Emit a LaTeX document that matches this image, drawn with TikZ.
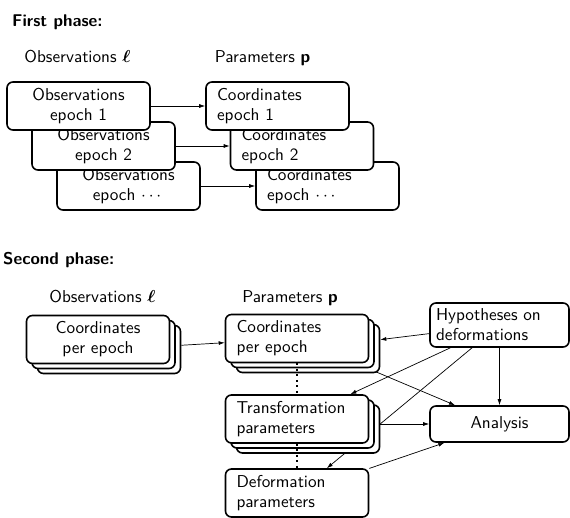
\documentclass[tikz,border=0pt]{standalone}
\usepackage{amsmath,amssymb,bm}
\usepackage{fontspec}
\setsansfont{lmsans10-regular.otf}[BoldFont=lmsans10-bold.otf, ItalicFont=lmsans10-oblique.otf]
\usetikzlibrary{arrows.meta}
\pgfdeclarelayer{bg}
\pgfsetlayers{bg,main}
\begin{document}
\begin{tikzpicture}[x=1pt,y=-1pt,
  font=\sffamily\fontsize{17.2}{20}\selectfont,
  box/.style={draw, line width=1.6pt, rounded corners=6pt, fill=white,
    minimum height=48pt, minimum width=143pt, inner sep=0pt},
  cbox/.style={box, align=center, text width=137pt},
  lbox/.style={box, align=left, text width=121pt},
  title/.style={anchor=base west, inner sep=0pt, font=\sffamily\bfseries\fontsize{17}{20}\selectfont},
  head/.style={anchor=base, inner sep=0pt},
  arr/.style={-{Latex[length=6pt,width=4pt]}, line width=0.7pt},
  dotline/.style={line width=2pt, dash pattern=on 2pt off 3.5pt}]
\useasboundingbox (0,0) rectangle (570,518);

% ---------- First phase ----------
\node[title] (t1) at (12,27) {First phase:};
\node[head] (h1) at (77.5,63) {Observations $\boldsymbol{\ell}$};
\node[head] (h2) at (262.5,63) {Parameters \textbf{p}};

\node[cbox] (o3) at (128.5,186) {Observations\\epoch $\cdots$};
\node[cbox] (o2) at (103.5,146) {Observations\\epoch 2};
\node[cbox] (o1) at (78.5,106) {Observations\\epoch 1};

\node[lbox] (c3) at (327.5,186) {Coordinates\\epoch $\cdots$};
\node[lbox] (c2) at (302,146) {Coordinates\\epoch 2};
\node[lbox] (c1) at (277.5,106) {Coordinates\\epoch 1};

\draw[arr] (o1) -- (c1);
\draw[arr] (o2) -- (c2);
\draw[arr] (o3) -- (c3);

% ---------- Second phase ----------
\node[title] (t2) at (3,265) {Second phase:};
\node[head] (h3) at (102.5,303) {Observations $\boldsymbol{\ell}$};
\node[head] (h4) at (290,303) {Parameters \textbf{p}};

\node[box] (L2) at (109,349.5) {};
\node[box] (L1) at (103.5,344.5) {};
\node[cbox] (L) at (98,339.5) {Coordinates\\per epoch};

\node[box] (CP2) at (308,348.5) {};
\node[box] (CP1) at (302.5,343.5) {};
\node[lbox] (CP) at (297,338.5) {Coordinates\\per epoch};

\node[box] (TP2) at (308,429) {};
\node[box] (TP1) at (302.5,424) {};
\node[lbox] (TP) at (297,419) {Transformation\\parameters};

\node[lbox] (DP) at (297,493) {Deformation\\parameters};

\node[box, minimum width=139pt, minimum height=44pt, text width=127pt, align=left]
  (hyp) at (499.5,325) {Hypotheses on\\deformations};
\node[box, minimum width=139pt, minimum height=36pt, align=center]
  (an) at (499.5,424) {Analysis};

\draw[dotline] (CP.south) -- (TP.north);
\draw[dotline] (TP.south) -- (DP.north);

\begin{pgfonlayer}{bg}
  \draw[arr] (L2) -- (CP);
  \draw[arr] (hyp) -- (CP2);
  \draw[arr] (hyp) -- (TP);
  \draw[arr] (hyp) -- (DP);
  \draw[arr] (hyp) -- (an);
  \draw[arr] (CP) -- (an);
  \draw[arr] (TP1) -- (an);
  \draw[arr] (DP) -- (an);
\end{pgfonlayer}
\end{tikzpicture}
\end{document}
